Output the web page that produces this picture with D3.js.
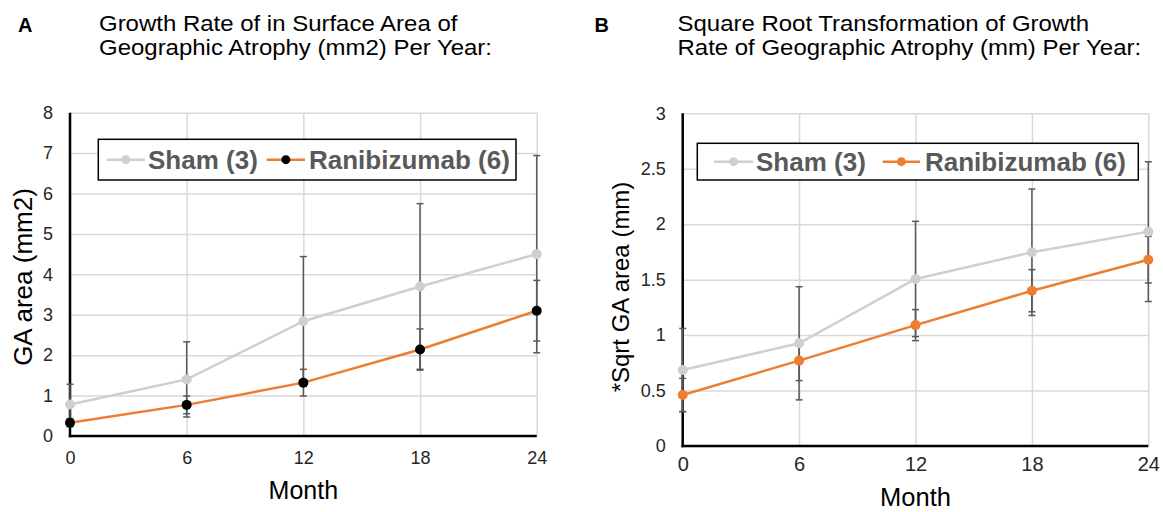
<!DOCTYPE html>
<html>
<head>
<meta charset="utf-8">
<script src="https://cdn.jsdelivr.net/npm/d3@7"></script>
<style>
  html, body { margin: 0; padding: 0; background: #fff; }
  svg { display: block; font-family: "Liberation Sans", Arial, sans-serif; }
</style>
</head>
<body>
<svg id="chart" width="1163" height="512"></svg>
<script>
// ---- data ----
const months = [0, 6, 12, 18, 24];
const monthLabels = ["0", "6", "12", "18", "24"];
const seriesNames = ["Sham (3)", "Ranibizumab (6)"];

// Panel A: GA area (mm2)
const shamArea = [0.78, 1.40, 2.84, 3.70, 4.50];
const shamAreaErr = [0.50, 0.93, 1.60, 2.05, 2.44];
const raniArea = [0.33, 0.77, 1.32, 2.14, 3.10];
const raniAreaErr = [0.10, 0.22, 0.33, 0.51, 0.75];
const areaTicks = [0, 1, 2, 3, 4, 5, 6, 7, 8];
const areaTickLabels = ["0", "1", "2", "3", "4", "5", "6", "7", "8"];

// Panel B: sqrt GA area (mm)
const shamSqrt = [0.685, 0.926, 1.506, 1.747, 1.933];
const shamSqrtErr = [0.375, 0.51, 0.52, 0.57, 0.63];
const raniSqrt = [0.46, 0.77, 1.09, 1.40, 1.68];
const raniSqrtErr = [0.15, 0.18, 0.14, 0.19, 0.21];
const sqrtTicks = [0, 0.5, 1, 1.5, 2, 2.5, 3];
const sqrtTickLabels = ["0", "0.5", "1", "1.5", "2", "2.5", "3"];

const svg = d3.select("#chart");
const GRID = "#d9d9d9", ERR = "#595959", SHAM = "#cfcfcf", ORANGE = "#ed7d31";

function panel(cfg) {
  const g = svg.append("g");
  const x = d3.scaleLinear().domain([0, 24]).range([cfg.x0, cfg.x1]);
  const y = d3.scaleLinear().domain([0, cfg.yMax]).range([cfg.y0, cfg.y1]);

  // gridlines + y tick labels
  const ya = d3.axisLeft(y).tickValues(cfg.yTicks)
    .tickFormat((d, i) => cfg.yLabels[i])
    .tickSize(-(cfg.x1 - cfg.x0)).tickPadding(cfg.yPad);
  const yg = g.append("g").attr("transform", `translate(${cfg.x0},0)`).call(ya);
  yg.select(".domain").remove();
  yg.selectAll("line").attr("stroke", GRID).attr("stroke-width", 1.5);
  yg.selectAll("text").attr("font-size", cfg.yFont).attr("fill", "#262626")
    .attr("font-family", "Liberation Sans, Arial, sans-serif");

  const xa = d3.axisBottom(x).tickValues(months)
    .tickFormat((d, i) => monthLabels[i])
    .tickSize(-(cfg.y0 - cfg.y1)).tickPadding(cfg.xPad);
  const xg = g.append("g").attr("transform", `translate(0,${cfg.y0})`).call(xa);
  xg.select(".domain").remove();
  xg.selectAll("line").attr("stroke", GRID).attr("stroke-width", 1.5);
  xg.selectAll("text").attr("font-size", cfg.xFont).attr("fill", "#262626")
    .attr("font-family", "Liberation Sans, Arial, sans-serif");

  // axis lines
  g.append("line").attr("x1", x(0)).attr("x2", x(0)).attr("y1", y(cfg.yMax)).attr("y2", y(0) + 1.25)
    .attr("stroke", "#000").attr("stroke-width", 2.5);
  g.append("line").attr("x1", x(0) - 1.25).attr("x2", x(24)).attr("y1", y(0)).attr("y2", y(0))
    .attr("stroke", "#000").attr("stroke-width", 2.5);

  const series = [
    { vals: cfg.sham, err: cfg.shamErr, line: SHAM, marker: SHAM },
    { vals: cfg.rani, err: cfg.raniErr, line: ORANGE, marker: cfg.raniMarker }
  ];
  const line = d3.line().x((d, i) => x(months[i])).y(d => y(d));

  series.forEach(s => {
    g.append("path").attr("d", line(s.vals)).attr("fill", "none")
      .attr("stroke", s.line).attr("stroke-width", 2.5);
  });
  // error bars
  series.forEach(s => {
    s.vals.forEach((v, i) => {
      const cx = x(months[i]), yt = y(v + s.err[i]), yb = y(v - s.err[i]);
      g.append("line").attr("x1", cx).attr("x2", cx).attr("y1", yt).attr("y2", yb)
        .attr("stroke", ERR).attr("stroke-width", 1.5);
      [yt, yb].forEach(yy => g.append("line").attr("x1", cx - 3.5).attr("x2", cx + 3.5)
        .attr("y1", yy).attr("y2", yy).attr("stroke", ERR).attr("stroke-width", 1.5));
    });
  });
  series.forEach(s => {
    g.selectAll(null).data(s.vals).enter().append("circle")
      .attr("cx", (d, i) => x(months[i])).attr("cy", d => y(d)).attr("r", 5)
      .attr("fill", s.marker);
  });

  // axis titles
  g.append("text").attr("x", (cfg.x0 + cfg.x1) / 2).attr("y", cfg.monthY)
    .attr("text-anchor", "middle").attr("font-size", cfg.monthFont).attr("fill", "#000")
    .text("Month");
  g.append("text").attr("transform", `translate(${cfg.yTitleX},${cfg.yTitleY}) rotate(-90)`)
    .attr("text-anchor", "middle").attr("dominant-baseline", "central")
    .attr("font-size", cfg.yTitleFont).attr("fill", "#000").text(cfg.yTitle);

  // panel letter and title
  g.append("text").attr("x", cfg.letterX).attr("y", 32.3).attr("font-size", 20)
    .attr("font-weight", "bold").attr("fill", "#000").text(cfg.letter);
  cfg.title.forEach((t, i) => g.append("text")
    .attr("transform", `translate(${cfg.titleX},${30.6 + i * 24.6}) scale(1.09,1)`)
    .attr("font-size", 22).attr("fill", "#000").text(t));

  // legend
  const L = cfg.legend;
  g.append("rect").attr("x", L.x).attr("y", L.y).attr("width", L.w).attr("height", L.h)
    .attr("fill", "#fff").attr("stroke", "#000").attr("stroke-width", 1.5);
  const cy = L.y + L.h / 2;
  L.items.forEach((it, k) => {
    const s = series[k];
    g.append("line").attr("x1", it.l0).attr("x2", it.l1).attr("y1", cy).attr("y2", cy)
      .attr("stroke", s.line).attr("stroke-width", 2.5);
    g.append("circle").attr("cx", (it.l0 + it.l1) / 2).attr("cy", cy).attr("r", 4.5)
      .attr("fill", s.marker);
    g.append("text").attr("x", it.tx).attr("y", cy).attr("dominant-baseline", "central")
      .attr("font-size", 26).attr("font-weight", "bold").attr("fill", "#595959")
      .text(seriesNames[k]);
  });
}

panel({
  x0: 70, x1: 536.7, y0: 436, y1: 112.7, yMax: 8,
  yTicks: areaTicks, yLabels: areaTickLabels, yPad: 17, yFont: 18,
  xPad: 15, xFont: 18, monthY: 499, monthFont: 25,
  sham: shamArea, shamErr: shamAreaErr, rani: raniArea, raniErr: raniAreaErr,
  raniMarker: "#000",
  yTitle: "GA area (mm2)", yTitleX: 23, yTitleY: 277, yTitleFont: 26,
  letter: "A", letterX: 18,
  title: ["Growth Rate of in Surface Area of", "Geographic Atrophy (mm2) Per Year:"], titleX: 99,
  legend: { x: 98.3, y: 139.3, w: 417.7, h: 40.7,
    items: [{ l0: 106.7, l1: 145, tx: 148 }, { l0: 266.7, l1: 305, tx: 309 }] }
});

panel({
  x0: 682.7, x1: 1148.3, y0: 446, y1: 113.3, yMax: 3,
  yTicks: sqrtTicks, yLabels: sqrtTickLabels, yPad: 17, yFont: 18,
  xPad: 10.5, xFont: 20, monthY: 506, monthFont: 25.5,
  sham: shamSqrt, shamErr: shamSqrtErr, rani: raniSqrt, raniErr: raniSqrtErr,
  raniMarker: ORANGE,
  yTitle: "*Sqrt GA area (mm)", yTitleX: 620, yTitleY: 287, yTitleFont: 24,
  letter: "B", letterX: 594.5,
  title: ["Square Root Transformation of Growth", "Rate of Geographic Atrophy (mm) Per Year:"], titleX: 677.5,
  legend: { x: 697.3, y: 143.3, w: 441, h: 36.7,
    items: [{ l0: 714, l1: 753.3, tx: 756 }, { l0: 882.7, l1: 920, tx: 925 }] }
});
</script>
</body>
</html>
